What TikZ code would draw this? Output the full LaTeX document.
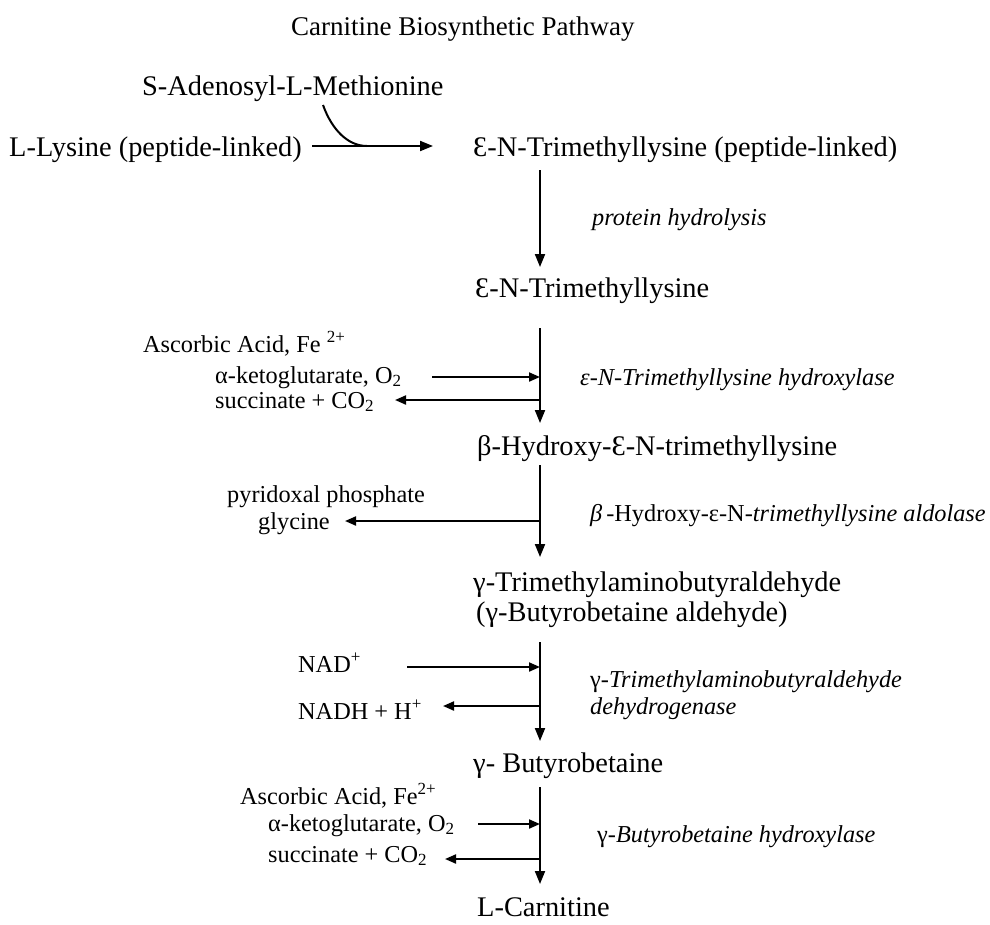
\documentclass[tikz,border=0pt]{standalone}
\usepackage{fontspec}
\setmainfont{Liberation Serif}
\usetikzlibrary{arrows.meta}
\begin{document}
\begin{tikzpicture}[x=1pt,y=-1pt,
  big/.style={inner sep=0pt,anchor=base west,font=\fontsize{28.4}{34}\selectfont},
  ttl/.style={inner sep=0pt,anchor=base west,font=\fontsize{27}{32}\selectfont},
  small/.style={inner sep=0pt,anchor=base west,font=\fontsize{24.3}{29}\selectfont},
  enz/.style={inner sep=0pt,anchor=base west,font=\fontsize{24.3}{29}\selectfont\itshape},
  conn/.style={line width=2pt},
  arr/.style={line width=2pt,-{Triangle[length=13pt,width=10pt]}},
  sarr/.style={line width=2pt,-{Triangle[length=11pt,width=9pt]}}]
\useasboundingbox (0,0) rectangle (990,924);
% texts
\node[ttl] (title) at (291,35) {Carnitine Biosynthetic Pathway};
\node[big] (sam) at (142,95) {S-Adenosyl-L-Methionine};
\node[big] (lys) at (9,156) {L-Lysine (peptide-linked)};
\node[big] (c1) at (473,156) {Ɛ-N-Trimethyllysine (peptide-linked)};
\node[big] (c2) at (475,297) {Ɛ-N-Trimethyllysine};
\node[big] (c3) at (477,455) {β-Hydroxy-Ɛ-N-trimethyllysine};
\node[big] (c4) at (473,591) {γ-Trimethylaminobutyraldehyde};
\node[big] (c4b) at (476,621) {(γ-Butyrobetaine aldehyde)};
\node[big] (c5) at (473,772) {γ- Butyrobetaine};
\node[big] (c6) at (477,916) {L-Carnitine};
\node[small] (asc1) at (143,352) {Ascorbic Acid, Fe \textsuperscript{2+}};
\node[small] (keto1) at (215,383) {α-ketoglutarate, O\textsubscript{2}};
\node[small] (succ1) at (215,408) {succinate + CO\textsubscript{2}};
\node[small] (pyr) at (227,502) {pyridoxal phosphate};
\node[small] (gly) at (258,529) {glycine};
\node[small] (nad) at (298,672) {NAD\textsuperscript{+}};
\node[small] (nadh) at (298,719) {NADH + H\textsuperscript{+}};
\node[small] (asc2) at (240,804) {Ascorbic Acid, Fe\textsuperscript{2+}};
\node[small] (keto2) at (268,831) {α-ketoglutarate, O\textsubscript{2}};
\node[small] (succ2) at (268,862) {succinate + CO\textsubscript{2}};
\node[enz] (e1) at (592,225) {protein hydrolysis};
\node[enz] (e2) at (580,385) {ε-N-Trimethyllysine hydroxylase};
\node[enz] (e3) at (590,521) {β\upshape\,-Hydroxy-ε-N-\itshape trimethyllysine aldolase};
\node[enz] (e4) at (590,687) {\upshape γ-\itshape Trimethylaminobutyraldehyde};
\node[enz] (e5) at (590,714) {dehydrogenase};
\node[enz] (e6) at (597,842) {\upshape γ-\itshape Butyrobetaine hydroxylase};
% connector end points
\coordinate (h0a) at (312,146); \coordinate (h0b) at (433,146);
\coordinate (sa) at (323,105); \coordinate (sb) at (367,146);
\coordinate (v1a) at (540,170); \coordinate (v1b) at (540,267);
\coordinate (v2a) at (540,328); \coordinate (v2b) at (540,423);
\coordinate (k1a) at (432,377); \coordinate (k1b) at (540,377);
\coordinate (s1a) at (540,400); \coordinate (s1b) at (395,400);
\coordinate (v3a) at (540,465); \coordinate (v3b) at (540,557);
\coordinate (g1a) at (540,521); \coordinate (g1b) at (345,521);
\coordinate (v4a) at (540,642); \coordinate (v4b) at (540,741);
\coordinate (n1a) at (407,667); \coordinate (n1b) at (540,667);
\coordinate (n2a) at (540,706); \coordinate (n2b) at (443,706);
\coordinate (v5a) at (540,787); \coordinate (v5b) at (540,884);
\coordinate (k2a) at (478,824); \coordinate (k2b) at (540,824);
\coordinate (s2a) at (540,859); \coordinate (s2b) at (445,859);
% connectors
\draw[arr] (h0a) -- (h0b);
\draw[conn] (sa) .. controls (332,130) and (348,146) .. (sb);
\draw[arr] (v1a) -- (v1b);
\draw[arr] (v2a) -- (v2b);
\draw[sarr] (k1a) -- (k1b);
\draw[sarr] (s1a) -- (s1b);
\draw[arr] (v3a) -- (v3b);
\draw[sarr] (g1a) -- (g1b);
\draw[arr] (v4a) -- (v4b);
\draw[sarr] (n1a) -- (n1b);
\draw[sarr] (n2a) -- (n2b);
\draw[arr] (v5a) -- (v5b);
\draw[sarr] (k2a) -- (k2b);
\draw[sarr] (s2a) -- (s2b);
\end{tikzpicture}
\end{document}
